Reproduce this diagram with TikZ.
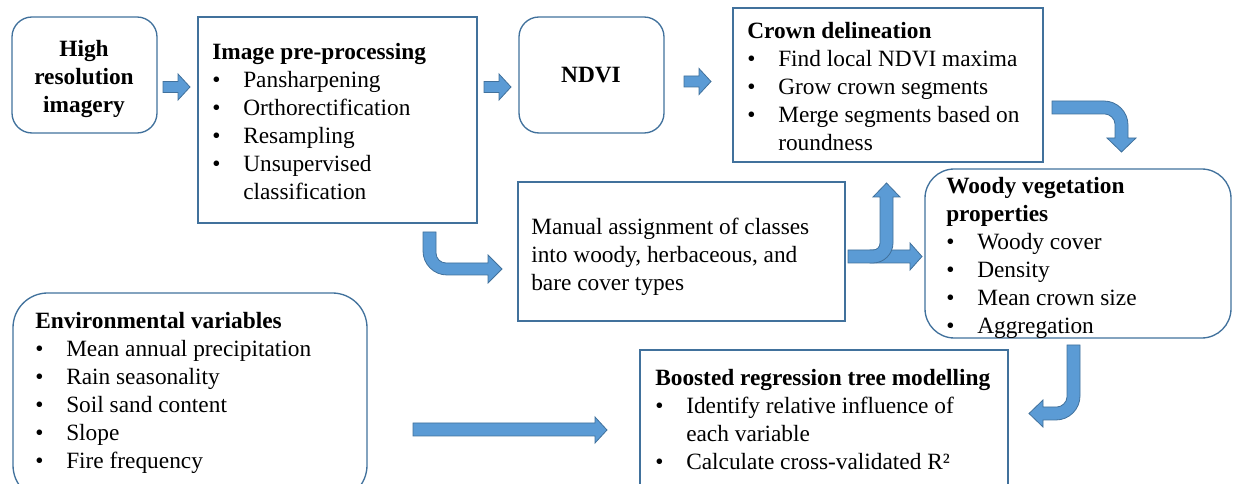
\documentclass[tikz,border=0pt]{standalone}
\usepackage{fontspec}
\setmainfont{Liberation Serif}
\definecolor{lineblue}{HTML}{41719C}
\definecolor{arrowblue}{HTML}{5B9BD5}
\newlength\bw \setlength\bw{23.25pt}
\newcommand\bit[1]{\hbox{\makebox[\bw][l]{•}#1}}
\newcommand\cont[1]{\hbox{\hspace*{\bw}#1}}
\newcommand\ttl[1]{\hbox{\bfseries #1}}
\newcommand\pln[1]{\hbox{#1}}
\newcommand\ctr[1]{\hbox to 0pt{\hss#1\hss}}
\begin{document}
\begin{tikzpicture}[x=0.75pt,y=-0.75pt,
  box/.style={draw=lineblue, line width=1pt},
  txt/.style={inner sep=0pt, anchor=base west, font=\fontsize{17.5}{21}\selectfont},
  barrow/.style={fill=arrowblue, draw=lineblue, line width=0.6pt, line join=miter}]
\useasboundingbox (0,0) rectangle (1233,484);
\clip (0,0) rectangle (1233,484);

% boxes
\draw[box, rounded corners=15pt] (12,17) rectangle (157,133);
\draw[box] (198,17) rectangle (477,223);
\draw[box, rounded corners=15pt] (519,17) rectangle (664,133);
\draw[box] (733,8) rectangle (1043,162);
\draw[box] (518,182) rectangle (845,321);
\draw[box, rounded corners=22pt] (925,169) rectangle (1231,338);
\draw[box, rounded corners=26pt] (13,293) rectangle (367,500);
\draw[box] (640,350) rectangle (1008,500);

% texts
\node[txt, anchor=base] (hri) at (84,57) {\vtop{\ctr{\bfseries High}\ctr{\bfseries resolution}\ctr{\bfseries imagery}}};
\node[txt] (pre) at (212,60) {\vtop{\ttl{Image pre-processing}\bit{Pansharpening}\bit{Orthorectification}\bit{Resampling}\bit{Unsupervised}\cont{classification}}};
\node[txt, anchor=base] (ndvi) at (591,83) {\bfseries NDVI};
\node[txt] (crown) at (747,39) {\vtop{\ttl{Crown delineation}\bit{Find local NDVI maxima}\bit{Grow crown segments}\bit{Merge segments based on}\cont{roundness}}};
\node[txt] (manual) at (531,235) {\vtop{\pln{Manual assignment of classes}\pln{into woody, herbaceous, and}\pln{bare cover types}}};
\node[txt] (woody) at (946,194) {\vtop{\ttl{Woody vegetation}\ttl{properties}\bit{Woody cover}\bit{Density}\bit{Mean crown size}\bit{Aggregation}}};
\node[txt] (env) at (35,329) {\vtop{\ttl{Environmental variables}\bit{Mean annual precipitation}\bit{Rain seasonality}\bit{Soil sand content}\bit{Slope}\bit{Fire frequency}}};
\node[txt] (brt) at (655,386) {\vtop{\ttl{Boosted regression tree modelling}\bit{Identify relative influence of}\cont{each variable}\bit{Calculate cross-validated R²}}};

% straight block arrows
\filldraw[barrow] (163,81.5) -- (178,81.5) -- (178,74) -- (190,87) -- (178,100) -- (178,92.5) -- (163,92.5) -- cycle;
\filldraw[barrow] (484,81.5) -- (499,81.5) -- (499,74) -- (511,87) -- (499,100) -- (499,92.5) -- (484,92.5) -- cycle;
\filldraw[barrow] (684,76) -- (699,76) -- (699,68.5) -- (711,81.5) -- (699,94.5) -- (699,87) -- (684,87) -- cycle;
\filldraw[barrow] (413,423) -- (595,423) -- (595,417) -- (607,430) -- (595,443) -- (595,436) -- (413,436) -- cycle;

% bent: pre-processing -> manual
\filldraw[barrow] (423,232) -- (423,251) .. controls (423,264.2) and (433.8,275) .. (447,275) -- (488,275) -- (488,283) -- (502,269) -- (488,255) -- (488,263) -- (446,263) .. controls (440.5,263) and (436,258.5) .. (436,253) -- (436,232) -- cycle;

% bent: crown -> woody
\filldraw[barrow] (1052,101) -- (1104,101) .. controls (1117.2,101) and (1128,111.8) .. (1128,125) -- (1128,138) -- (1136,138) -- (1121.5,152) -- (1107,138) -- (1115,138) -- (1115,124) .. controls (1115,118.5) and (1109.5,114) .. (1105,114) -- (1052,114) -- cycle;

% manual -> woody (straight) and manual -> crown (bent up)
\filldraw[barrow] (870,250) -- (910,250) -- (910,243) -- (922,256.5) -- (910,270) -- (910,263) -- (870,263) -- cycle;
\filldraw[barrow] (848,250) -- (873,250) .. controls (877,250) and (880,247) .. (880,243) -- (880,197) -- (873,197) -- (886.5,183) -- (900,197) -- (893,197) -- (893,243) .. controls (893,254) and (884,263) .. (873,263) -- (848,263) -- cycle;

% bent: woody -> boosted
\filldraw[barrow] (1067,345) -- (1080,345) -- (1080,396) .. controls (1080,409.2) and (1069.2,420) .. (1056,420) -- (1043,420) -- (1043,427) -- (1029,413.5) -- (1043,400) -- (1043,407) -- (1057,407) .. controls (1061.5,407) and (1067,402.5) .. (1067,397) -- cycle;
\end{tikzpicture}
\end{document}
